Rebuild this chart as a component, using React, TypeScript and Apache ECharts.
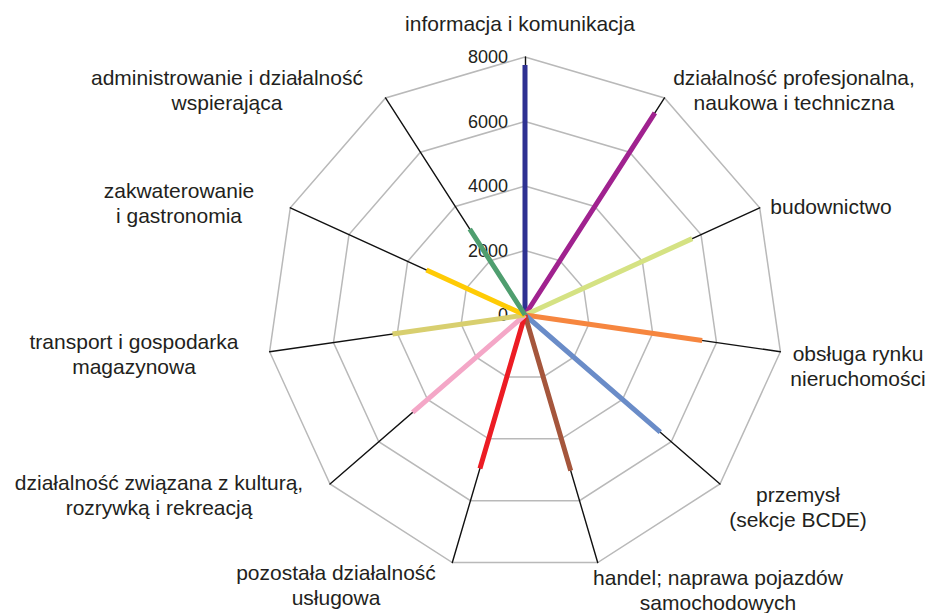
import React, { useEffect, useRef } from "react";
import * as echarts from "echarts";

// Categories in clockwise order starting from the top
const categories = [
  "informacja i komunikacja",
  "działalność profesjonalna,\nnaukowa i techniczna",
  "budownictwo",
  "obsługa rynku\nnieruchomości",
  "przemysł\n(sekcje BCDE)",
  "handel; naprawa pojazdów\nsamochodowych",
  "pozostała działalność\nusługowa",
  "działalność związana z kulturą,\nrozrywką i rekreacją",
  "transport i gospodarka\nmagazynowa",
  "zakwaterowanie\ni gastronomia",
  "administrowanie i działalność\nwspierająca",
];
const values = [7750, 7450, 5700, 5550, 5550, 5030, 4960, 4610, 4150, 3360, 3170];
const colors = [
  "#2e3192",
  "#a0228f",
  "#d5e283",
  "#f6863f",
  "#6a8cc8",
  "#a5563c",
  "#ec1c24",
  "#f4a7c7",
  "#d8cf6f",
  "#ffcb05",
  "#4f9e6f",
];
const tickLabels = ["0", "2000", "4000", "6000", "8000"];
const axisMax = 8000;

// label block centres (layout only)
const labelPos: [number, number][] = [
  [520, 23],
  [794, 90],
  [831, 206],
  [858, 366],
  [798, 507],
  [718, 590],
  [336, 585],
  [159, 495],
  [134, 354],
  [179, 203],
  [227, 90],
];

export default function App() {
  const ref = useRef<HTMLDivElement>(null);
  useEffect(() => {
    if (!ref.current) return;
    const chart = echarts.init(ref.current, null, { renderer: "svg" });
    const n = categories.length;
    // ECharts radar runs counter-clockwise; map clockwise order onto it
    const order = categories.map((_, k) => (k === 0 ? 0 : n - k));
    const indicator = order.map((ci, k) => {
      const ind: any = { name: categories[ci], min: 0, max: axisMax };
      if (k === 0) {
        ind.axisLabel = {
          show: true,
          fontSize: 18,
          color: "#231f20",
          fontFamily: "Liberation Sans, Arial, sans-serif",
          margin: 17,
          formatter: (v: number) => {
            const idx = Math.round((v / axisMax) * (tickLabels.length - 1));
            return tickLabels[idx] ?? String(v);
          },
        };
      }
      return ind;
    });
    const seriesData = categories.map((name, i) => {
      const arr = order.map((ci) => (ci === i ? values[i] : 0));
      return {
        name,
        value: arr,
        symbol: "none",
        lineStyle: { color: colors[i], width: 5, join: "bevel", cap: "butt" },
        itemStyle: { color: colors[i] },
      };
    });
    const graphics = categories.map((c, i) => ({
      type: "text",
      x: labelPos[i][0],
      y: labelPos[i][1],
      style: {
        text: c,
        fill: "#231f20",
        font: '21px "Liberation Sans", Arial, sans-serif',
        align: "center",
        verticalAlign: "middle",
        lineHeight: 25,
      },
      silent: true,
    }));
    chart.setOption({
      animation: false,
      backgroundColor: "#ffffff",
      radar: {
        center: [525, 315],
        radius: 258,
        shape: "polygon",
        splitNumber: 4,
        startAngle: 90,
        indicator,
        axisName: { show: false },
        axisLine: { show: true, lineStyle: { color: "#111111", width: 1.4 } },
        splitLine: { show: true, lineStyle: { color: "#b9b9b9", width: 1.5 } },
        splitArea: { show: false },
        axisTick: { show: false },
        axisLabel: { show: false },
      },
      series: [
        {
          type: "radar",
          symbol: "none",
          data: seriesData,
        },
      ],
      graphic: graphics,
    });
    return () => chart.dispose();
  }, []);
  return (
    <div
      ref={ref}
      style={{ position: "fixed", left: 0, top: 0, width: 932, height: 613 }}
    />
  );
}
